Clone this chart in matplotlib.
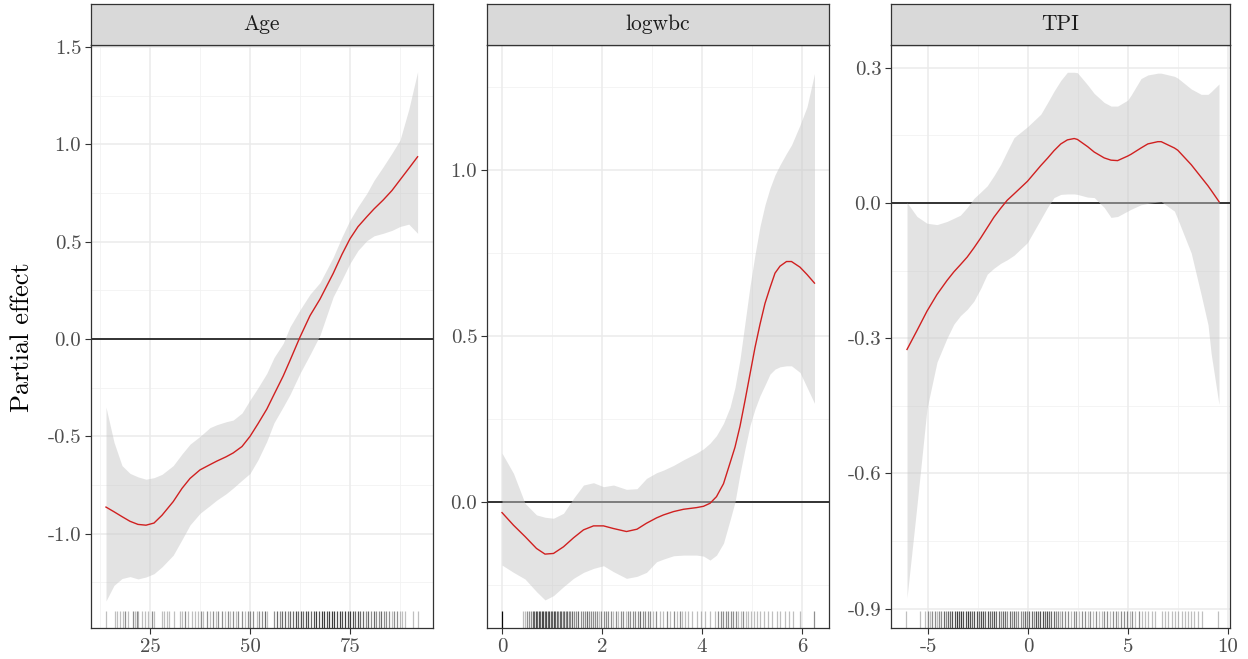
import matplotlib
matplotlib.use("Agg")
import matplotlib.pyplot as plt
import matplotlib.transforms as mtrans
import numpy as np

plt.rcParams['font.family'] = ['cmr10', 'DejaVu Serif']
plt.rcParams['axes.unicode_minus'] = False
plt.rcParams['mathtext.fontset'] = 'cm'

# ---------------- data ----------------
panel_titles = ["Age", "logwbc", "TPI"]

age_x = [14.0, 16.0, 18.0, 20.0, 22.0, 24.0, 26.0, 28.0, 30.8, 33.0, 35.0, 37.5, 40.0, 41.7, 44.0,
         45.8, 48.0, 50.0, 52.0, 54.2, 56.0, 58.3, 60.0, 62.5, 65.0, 67.5, 70.8, 73.0, 75.0, 77.0,
         79.2, 81.0, 83.3, 85.5, 87.5, 89.7, 91.9]
age_fit = [-0.863, -0.887, -0.912, -0.936, -0.952, -0.956, -0.945, -0.905, -0.835, -0.767, -0.716,
           -0.672, -0.645, -0.627, -0.605, -0.585, -0.552, -0.500, -0.435, -0.360, -0.285, -0.190,
           -0.110, 0.010, 0.120, 0.205, 0.337, 0.435, 0.515, 0.577, 0.628, 0.668, 0.714, 0.763,
           0.817, 0.876, 0.936]
age_lo = [-1.345, -1.265, -1.230, -1.220, -1.232, -1.222, -1.205, -1.170, -1.110, -1.030, -0.955,
          -0.895, -0.855, -0.827, -0.795, -0.765, -0.725, -0.690, -0.620, -0.525, -0.430, -0.348,
          -0.285, -0.176, -0.080, 0.020, 0.217, 0.305, 0.389, 0.455, 0.505, 0.530, 0.543, 0.558,
          0.578, 0.590, 0.543]
age_hi = [-0.350, -0.530, -0.650, -0.690, -0.708, -0.720, -0.712, -0.695, -0.650, -0.590, -0.540,
          -0.500, -0.455, -0.440, -0.425, -0.416, -0.380, -0.313, -0.250, -0.176, -0.095, -0.022,
          0.063, 0.150, 0.230, 0.290, 0.420, 0.525, 0.611, 0.680, 0.748, 0.815, 0.885, 0.955,
          1.022, 1.180, 1.373]

wbc_x = [0.00, 0.23, 0.46, 0.69, 0.86, 1.03, 1.23, 1.43, 1.63, 1.83, 2.03, 2.23, 2.49, 2.70, 2.89,
         3.09, 3.23, 3.43, 3.63, 3.89, 4.03, 4.16, 4.29, 4.43, 4.56, 4.66, 4.76, 4.86, 4.96, 5.06,
         5.16, 5.26, 5.36, 5.46, 5.56, 5.69, 5.79, 5.96, 6.10, 6.25]
wbc_fit = [-0.032, -0.070, -0.104, -0.140, -0.157, -0.155, -0.135, -0.108, -0.084, -0.072, -0.072,
           -0.080, -0.089, -0.082, -0.064, -0.048, -0.039, -0.029, -0.022, -0.017, -0.013, -0.004,
           0.016, 0.055, 0.117, 0.165, 0.228, 0.305, 0.385, 0.465, 0.535, 0.598, 0.645, 0.689,
           0.710, 0.724, 0.724, 0.707, 0.685, 0.659]
wbc_lo = [-0.190, -0.212, -0.232, -0.270, -0.295, -0.282, -0.255, -0.230, -0.212, -0.200, -0.192,
          -0.210, -0.230, -0.224, -0.212, -0.180, -0.172, -0.162, -0.160, -0.160, -0.163, -0.175,
          -0.160, -0.124, -0.055, 0.000, 0.085, 0.160, 0.230, 0.280, 0.320, 0.352, 0.385, 0.400,
          0.407, 0.410, 0.410, 0.390, 0.345, 0.297]
wbc_hi = [0.147, 0.086, -0.004, -0.039, -0.046, -0.049, -0.034, 0.011, 0.051, 0.058, 0.046, 0.051,
          0.038, 0.040, 0.071, 0.088, 0.096, 0.110, 0.127, 0.147, 0.160, 0.177, 0.200, 0.237, 0.285,
          0.345, 0.430, 0.540, 0.650, 0.745, 0.830, 0.895, 0.945, 0.985, 1.015, 1.050, 1.075,
          1.135, 1.190, 1.290]

tpi_x = [-6.05, -5.55, -5.05, -4.55, -4.05, -3.71, -3.38, -3.04, -2.71, -2.37, -2.04, -1.71, -1.37,
         -1.04, -0.70, -0.03, 0.64, 0.97, 1.30, 1.64, 1.97, 2.31, 2.47, 2.98, 3.31, 3.81, 4.15,
         4.48, 4.98, 5.15, 5.65, 5.99, 6.49, 6.66, 7.32, 7.49, 8.16, 8.66, 9.00, 9.16, 9.55]
tpi_fit = [-0.325, -0.283, -0.240, -0.203, -0.172, -0.153, -0.137, -0.120, -0.100, -0.078, -0.055,
           -0.032, -0.012, 0.006, 0.020, 0.048, 0.083, 0.099, 0.116, 0.131, 0.140, 0.143, 0.141,
           0.125, 0.113, 0.100, 0.095, 0.094, 0.104, 0.108, 0.122, 0.131, 0.136, 0.136, 0.122,
           0.117, 0.085, 0.057, 0.038, 0.028, 0.003]
tpi_lo = [-0.876, -0.670, -0.456, -0.353, -0.300, -0.269, -0.250, -0.236, -0.218, -0.190, -0.158,
          -0.145, -0.134, -0.126, -0.116, -0.088, -0.036, -0.010, 0.012, 0.019, 0.020, 0.020, 0.019,
          0.013, 0.012, -0.010, -0.032, -0.030, -0.018, -0.014, -0.004, -0.001, 0.002, 0.003,
          -0.018, -0.036, -0.111, -0.204, -0.270, -0.335, -0.447]
tpi_hi = [0.001, -0.030, -0.045, -0.048, -0.041, -0.034, -0.027, -0.010, 0.010, 0.024, 0.038, 0.060,
          0.085, 0.115, 0.145, 0.169, 0.197, 0.222, 0.248, 0.272, 0.290, 0.290, 0.289, 0.262, 0.243,
          0.223, 0.215, 0.215, 0.228, 0.239, 0.276, 0.284, 0.288, 0.288, 0.281, 0.277, 0.253,
          0.241, 0.241, 0.247, 0.264]

# rug observations (position, multiplicity)
age_rug = [14.0, 16.3, 16.8, 17.5, 18.2, 18.8, 19.6, 20.8, 21.3, 21.7, 22.1, 22.9, 23.8, 24.6, 25.4,
           26.1, 27.9, 28.6, 29.2, 29.8, 30.9, 32.5, 33.1, 33.8, 34.6, 35.4, 36.3, 37.1, 37.8, 38.3,
           39.2, 40.0, 40.8, 41.4, 42.1, 42.9, 43.8, 44.4, 45.0, 45.8, 46.4, 47.1, 47.9, 48.8, 49.4,
           50.0, 50.8, 51.7, 52.3, 52.9, 53.8, 54.3, 56.1, 56.7, 57.5, 58.1, 58.8, 59.4, 60.0, 60.7,
           61.4, 62.0, 62.7, 63.3, 64.0, 64.6, 65.3, 65.9, 66.6, 67.2, 67.9, 68.5, 69.2, 69.8, 70.5,
           71.1, 71.8, 72.4, 73.1, 73.7, 74.4, 75.0, 75.7, 76.3, 77.0, 77.6, 78.3, 78.9, 79.6, 80.2,
           80.9, 81.5, 82.2, 82.8, 83.5, 84.1, 84.8, 85.4, 86.1, 86.7, 87.4, 88.0, 88.7, 90.8, 91.9]
age_rug_n = [1, 1, 1, 1, 1, 2, 1, 2, 1, 2, 1, 1, 1, 1, 2, 1, 1, 1, 1, 1, 1, 1, 1, 2, 1, 1, 1, 1, 2, 1,
             2, 1, 2, 1, 2, 2, 1, 2, 1, 2, 1, 2, 2, 1, 2, 2, 2, 1, 2, 2, 3, 1, 2, 3, 2, 3, 3, 2, 3, 3,
             4, 3, 4, 3, 4, 4, 3, 4, 5, 4, 5, 5, 4, 5, 5, 5, 4, 5, 4, 5, 4, 5, 4, 3, 4, 3, 3, 2, 3, 2,
             3, 2, 2, 3, 2, 2, 2, 1, 2, 2, 1, 1, 1, 1, 1]

wbc_rug = [0.00, 0.41, 0.45, 0.49, 0.53, 0.57, 0.61, 0.64, 0.67, 0.70, 0.73, 0.76, 0.79, 0.82, 0.85,
           0.88, 0.91, 0.94, 0.97, 1.00, 1.03, 1.06, 1.09, 1.12, 1.15, 1.18, 1.21, 1.24, 1.27, 1.30,
           1.33, 1.36, 1.40, 1.44, 1.48, 1.52, 1.57, 1.61, 1.65, 1.69, 1.73, 1.77, 1.81, 1.85, 1.89,
           1.94, 1.98, 2.03, 2.07, 2.12, 2.17, 2.22, 2.27, 2.32, 2.37, 2.42, 2.47, 2.52, 2.56, 2.61,
           2.66, 2.71, 2.76, 2.81, 2.86, 2.91, 2.96, 3.01, 3.08, 3.15, 3.22, 3.29, 3.36, 3.43, 3.50,
           3.55, 3.60, 3.65, 3.72, 3.80, 3.90, 3.98, 4.05, 4.15, 4.26, 4.32, 4.37, 4.42, 4.47, 4.52,
           4.57, 4.62, 4.67, 4.72, 4.77, 4.82, 4.87, 4.92, 4.97, 5.03, 5.09, 5.16, 5.23, 5.31, 5.40,
           5.50, 5.56, 5.66, 5.73, 5.82, 5.96, 6.24]
wbc_rug_n = [12, 1, 1, 2, 2, 2, 3, 3, 4, 3, 4, 3, 4, 4, 3, 4, 3, 4, 3, 3, 4, 3, 3, 2, 3, 3, 2, 3, 2, 3,
             2, 2, 3, 2, 2, 3, 2, 2, 2, 3, 2, 2, 2, 2, 2, 1, 2, 2, 2, 2, 2, 1, 2, 1, 2, 2, 1, 2, 2, 2,
             2, 2, 3, 2, 2, 2, 2, 1, 2, 1, 1, 2, 1, 2, 1, 2, 1, 1, 1, 1, 1, 1, 1, 1, 1, 2, 2, 2, 2, 2,
             2, 2, 2, 1, 1, 2, 1, 1, 1, 1, 1, 1, 1, 1, 1, 1, 1, 1, 1, 1, 1, 2]

tpi_rug = [-6.10, -5.40, -5.15, -5.02, -4.90, -4.78, -4.66, -4.55, -4.44, -4.33, -4.22, -4.11, -4.00,
           -3.89, -3.78, -3.67, -3.56, -3.45, -3.34, -3.23, -3.12, -3.01, -2.90, -2.79, -2.68,
           -2.57, -2.46, -2.35, -2.24, -2.13, -2.02, -1.91, -1.80, -1.69, -1.58, -1.47, -1.36,
           -1.25, -1.14, -1.03, -0.92, -0.81, -0.70, -0.59, -0.48, -0.37, -0.26, -0.15, -0.04,
           0.07, 0.18, 0.29, 0.40, 0.51, 0.62, 0.73, 0.84, 0.95, 1.06, 1.17, 1.28, 1.39, 1.50, 1.61,
           1.72, 1.86, 2.00, 2.14, 2.28, 2.42, 2.56, 2.70, 2.84, 2.98, 3.12, 3.26, 3.40, 3.54, 3.68,
           3.82, 3.96, 4.10, 4.24, 4.38, 4.52, 4.66, 4.80, 4.94, 5.08, 5.22, 5.36, 5.55, 5.70, 5.85,
           6.00, 6.20, 6.35, 6.70, 6.85, 7.00, 7.18, 7.35, 7.52, 7.70, 7.85, 8.00, 8.15, 8.30, 8.50,
           8.70, 9.50]
tpi_rug_n = [1, 1, 1, 2, 1, 2, 2, 1, 2, 2, 3, 2, 3, 3, 4, 4, 5, 4, 5, 4, 4, 5, 4, 3, 4, 4, 3, 4, 4, 3,
             4, 3, 3, 4, 3, 3, 2, 3, 3, 2, 3, 2, 3, 2, 2, 2, 2, 3, 2, 3, 3, 2, 4, 3, 4, 4, 3, 4, 3, 3,
             3, 2, 2, 1, 2, 2, 2, 1, 2, 2, 1, 2, 2, 1, 2, 1, 2, 1, 1, 2, 2, 1, 2, 2, 1, 2, 2, 2, 1, 2,
             1, 2, 1, 1, 1, 1, 1, 1, 1, 1, 1, 1, 1, 1, 1, 1, 1, 1, 1, 1, 1]

panels = [
    dict(title="Age", x=age_x, fit=age_fit, lo=age_lo, hi=age_hi, rug=age_rug, rug_n=age_rug_n,
         xlim=(10.25, 95.75), ylim=(-1.484, 1.51), xt=[25, 50, 75], xl=["25", "50", "75"],
         xminor=[12.5, 37.5, 62.5, 87.5],
         yt=[-1.0, -0.5, 0.0, 0.5, 1.0, 1.5], yl=["-1.0", "-0.5", "0.0", "0.5", "1.0", "1.5"],
         yminor=[-1.25, -0.75, -0.25, 0.25, 0.75, 1.25]),
    dict(title="logwbc", x=wbc_x, fit=wbc_fit, lo=wbc_lo, hi=wbc_hi, rug=wbc_rug, rug_n=wbc_rug_n,
         xlim=(-0.3, 6.54), ylim=(-0.3795, 1.376), xt=[0, 2, 4, 6], xl=["0", "2", "4", "6"],
         xminor=[1, 3, 5],
         yt=[0.0, 0.5, 1.0], yl=["0.0", "0.5", "1.0"], yminor=[-0.25, 0.25, 0.75, 1.25]),
    dict(title="TPI", x=tpi_x, fit=tpi_fit, lo=tpi_lo, hi=tpi_hi, rug=tpi_rug, rug_n=tpi_rug_n,
         xlim=(-6.85, 10.1), ylim=(-0.943, 0.3505), xt=[-5, 0, 5, 10], xl=["-5", "0", "5", "10"],
         xminor=[-2.5, 2.5, 7.5],
         yt=[-0.9, -0.6, -0.3, 0.0, 0.3], yl=["-0.9", "-0.6", "-0.3", "0.0", "0.3"],
         yminor=[-0.75, -0.45, -0.15, 0.15]),
]

W, H = 1248, 659
fig = plt.figure(figsize=(W / 100, H / 100), dpi=100)

lefts = [91, 487, 891]
rights = [433, 829, 1230]
top_px, bot_px, strip_top = 45, 628, 4

grey20 = "#333333"
grey30 = "#4D4D4D"

for p, l, r in zip(panels, lefts, rights):
    ax = fig.add_axes([l / W, (H - bot_px) / H, (r - l) / W, (bot_px - top_px) / H])
    ax.set_xlim(*p["xlim"])
    ax.set_ylim(*p["ylim"])
    # grid
    for v in p["xminor"]:
        ax.axvline(v, color="#F2F2F2", lw=0.6, zorder=0)
    for v in p["yminor"]:
        ax.axhline(v, color="#F2F2F2", lw=0.6, zorder=0)
    for v in p["xt"]:
        ax.axvline(v, color="#EBEBEB", lw=1.1, zorder=0)
    for v in p["yt"]:
        ax.axhline(v, color="#EBEBEB", lw=1.1, zorder=0)
    ax.axhline(0, color="black", lw=1.1, zorder=1)
    ax.fill_between(p["x"], p["lo"], p["hi"], color="#C8C8C8", alpha=0.5, lw=0, zorder=2)
    ax.plot(p["x"], p["fit"], color="#D02020", lw=1.0, zorder=3)
    # rug
    trans = mtrans.blended_transform_factory(ax.transData, ax.transAxes)
    for xv, n in zip(p["rug"], p["rug_n"]):
        a = 1 - (1 - 0.25) ** n
        ax.vlines(xv, 0, 0.03, transform=trans, color="black", alpha=a, lw=0.9, zorder=2)
    ax.set_xticks(p["xt"])
    ax.set_xticklabels(p["xl"])
    ax.set_yticks(p["yt"])
    ax.set_yticklabels(p["yl"])
    ax.tick_params(direction="out", length=4, width=0.8, color=grey20, labelcolor=grey30,
                   labelsize=15, pad=3)
    for s in ax.spines.values():
        s.set_color(grey20)
        s.set_linewidth(0.9)
    ax.set_facecolor("white")
    # strip
    sax = fig.add_axes([l / W, (H - top_px) / H, (r - l) / W, (top_px - strip_top) / H])
    sax.set_facecolor("#D9D9D9")
    sax.set_xticks([])
    sax.set_yticks([])
    for s in sax.spines.values():
        s.set_color(grey20)
        s.set_linewidth(0.9)
    sax.text(0.5, 0.5, p["title"], ha="center", va="center", fontsize=15.5, color="#1A1A1A",
             transform=sax.transAxes)

fig.text(22 / W, 1 - 337 / H, "Partial effect", rotation=90, ha="center", va="center",
         fontsize=19, color="black")

fig.savefig("out.png", dpi=100, facecolor="white")
